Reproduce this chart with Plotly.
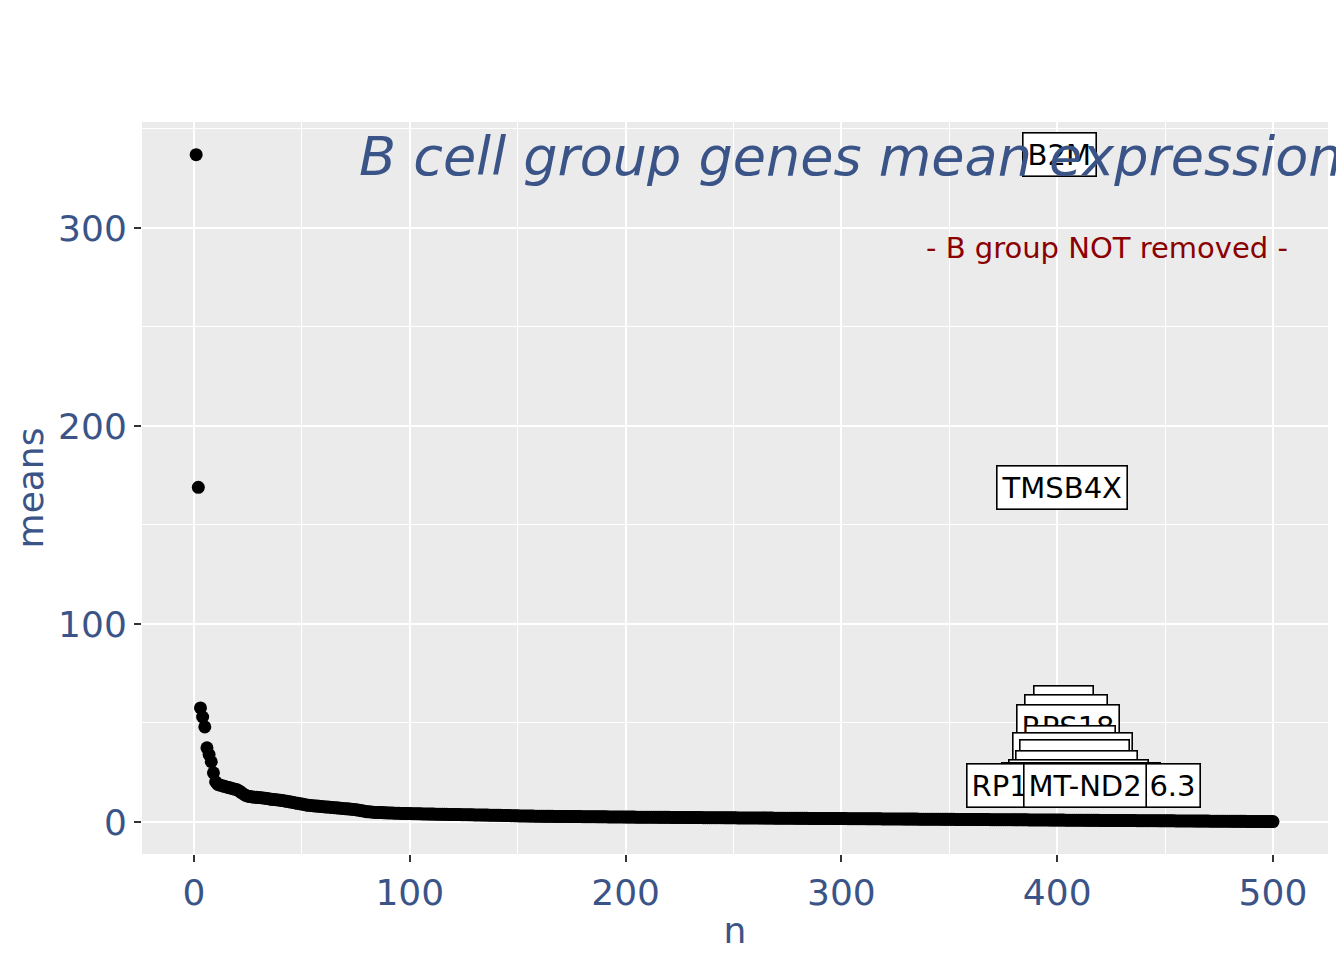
import plotly.graph_objects as go

# ---- data ----
means = [
    337.0, 169.0, 57.6, 53.0, 48.0, 37.4, 34.0, 30.4, 24.8, 20.3,
    19.0, 18.6, 18.3, 18.0, 17.7, 17.4, 17.1, 16.8, 16.5, 16.2,
    15.6, 14.8, 14.0, 13.4, 13.0, 12.8, 12.6, 12.5, 12.4, 12.3,
    12.2, 12.1, 12.0, 11.8, 11.6, 11.4, 11.3, 11.2, 11.1, 11.0,
    10.8, 10.6, 10.4, 10.2, 10.0, 9.8, 9.6, 9.4, 9.2, 9.0,
    8.8, 8.6, 8.4, 8.3, 8.2, 8.1, 8.0, 7.9, 7.8, 7.7,
    7.6, 7.5, 7.4, 7.3, 7.2, 7.1, 7.0, 6.9, 6.8, 6.7,
    6.6, 6.5, 6.4, 6.3, 6.2, 6.0, 5.8, 5.6, 5.4, 5.2,
    5.1, 5.0, 4.9, 4.8, 4.8, 4.7, 4.7, 4.6, 4.6, 4.5,
    4.5, 4.5, 4.4, 4.4, 4.4, 4.3, 4.3, 4.3, 4.2, 4.2,
    4.18, 4.15, 4.12, 4.10, 4.08, 4.05, 4.02, 4.00, 3.98, 3.96,
    3.94, 3.92, 3.90, 3.88, 3.86, 3.84, 3.82, 3.80, 3.78, 3.76,
    3.74, 3.72, 3.70, 3.68, 3.66, 3.64, 3.62, 3.60, 3.58, 3.56,
    3.54, 3.52, 3.50, 3.48, 3.46, 3.44, 3.42, 3.40, 3.38, 3.36,
    3.34, 3.31, 3.28, 3.25, 3.22, 3.19, 3.16, 3.13, 3.10, 3.07,
    3.05, 3.03, 3.01, 2.99, 2.97, 2.95, 2.93, 2.91, 2.89, 2.87,
    2.86, 2.85, 2.84, 2.83, 2.82, 2.81, 2.80, 2.79, 2.78, 2.77,
    2.76, 2.75, 2.74, 2.73, 2.72, 2.71, 2.70, 2.69, 2.68, 2.67,
    2.66, 2.65, 2.64, 2.63, 2.62, 2.61, 2.60, 2.59, 2.58, 2.57,
    2.56, 2.55, 2.54, 2.53, 2.52, 2.51, 2.50, 2.49, 2.48, 2.47,
    2.46, 2.45, 2.44, 2.43, 2.42, 2.41, 2.40, 2.40, 2.39, 2.38,
    2.37, 2.36, 2.35, 2.35, 2.34, 2.33, 2.32, 2.31, 2.30, 2.30,
    2.29, 2.28, 2.27, 2.26, 2.26, 2.25, 2.24, 2.23, 2.22, 2.22,
    2.21, 2.20, 2.19, 2.18, 2.18, 2.17, 2.16, 2.15, 2.14, 2.14,
    2.13, 2.12, 2.11, 2.10, 2.10, 2.09, 2.08, 2.07, 2.06, 2.06,
    2.05, 2.04, 2.03, 2.03, 2.02, 2.01, 2.00, 2.00, 1.99, 1.98,
    1.97, 1.97, 1.96, 1.95, 1.94, 1.94, 1.93, 1.92, 1.91, 1.91,
    1.90, 1.89, 1.88, 1.88, 1.87, 1.86, 1.85, 1.85, 1.84, 1.83,
    1.82, 1.82, 1.81, 1.80, 1.79, 1.79, 1.78, 1.77, 1.76, 1.76,
    1.75, 1.74, 1.73, 1.73, 1.72, 1.71, 1.70, 1.70, 1.69, 1.68,
    1.67, 1.67, 1.66, 1.65, 1.64, 1.64, 1.63, 1.62, 1.61, 1.61,
    1.60, 1.59, 1.58, 1.58, 1.57, 1.56, 1.55, 1.55, 1.54, 1.53,
    1.52, 1.52, 1.51, 1.50, 1.49, 1.49, 1.48, 1.47, 1.46, 1.46,
    1.45, 1.44, 1.43, 1.43, 1.42, 1.41, 1.40, 1.40, 1.39, 1.38,
    1.37, 1.37, 1.36, 1.35, 1.34, 1.34, 1.33, 1.32, 1.31, 1.31,
    1.30, 1.29, 1.28, 1.28, 1.27, 1.26, 1.25, 1.25, 1.24, 1.23,
    1.22, 1.22, 1.21, 1.20, 1.19, 1.19, 1.18, 1.17, 1.16, 1.16,
    1.15, 1.14, 1.13, 1.13, 1.12, 1.11, 1.10, 1.10, 1.09, 1.08,
    1.07, 1.07, 1.06, 1.05, 1.04, 1.04, 1.03, 1.02, 1.01, 1.01,
    1.00, 0.99, 0.98, 0.98, 0.97, 0.96, 0.95, 0.95, 0.94, 0.93,
    0.92, 0.92, 0.91, 0.90, 0.89, 0.89, 0.88, 0.87, 0.86, 0.86,
    0.85, 0.84, 0.83, 0.83, 0.82, 0.81, 0.80, 0.80, 0.79, 0.78,
    0.77, 0.77, 0.76, 0.75, 0.74, 0.74, 0.73, 0.72, 0.71, 0.71,
    0.70, 0.69, 0.68, 0.68, 0.67, 0.66, 0.65, 0.65, 0.64, 0.63,
    0.62, 0.62, 0.61, 0.60, 0.59, 0.59, 0.58, 0.57, 0.56, 0.56,
    0.55, 0.54, 0.53, 0.53, 0.52, 0.51, 0.50, 0.50, 0.49, 0.48,
    0.47, 0.47, 0.46, 0.45, 0.44, 0.44, 0.43, 0.42, 0.41, 0.41,
    0.40, 0.39, 0.38, 0.38, 0.37, 0.36, 0.35, 0.35, 0.34, 0.33,
    0.32, 0.32, 0.31, 0.30, 0.29, 0.29, 0.28, 0.27, 0.26, 0.26,
    0.25, 0.24, 0.23, 0.23, 0.22, 0.21, 0.20, 0.20, 0.19, 0.18,
]
n = list(range(1, len(means) + 1))

# labelled top genes, in rank order
top_genes = ["B2M", "TMSB4X", "FTL", "TPT1", "RPS18", "CD74", "EEF1A1",
             "MS4A1", "MT-CO1", "HLA-DRA", "HLA-DRB1", "RP11-222K16.3", "MT-ND2"]

title_text = "B cell group genes mean expression"
subtitle_text = "- B group NOT removed -"

x_ticks = [0, 100, 200, 300, 400, 500]
y_ticks = [0, 100, 200, 300]

# ---- styling ----
FONT = "DejaVu Sans"
BLUE = "#3B5488"
PANEL = "#EBEBEB"
NUDGE_X = 400

fig = go.Figure()
fig.add_trace(go.Scatter(
    x=n, y=means, mode="markers",
    marker=dict(color="black", size=13, line=dict(width=0)),
    showlegend=False, hoverinfo="skip",
))

annotations = []
for i, g in enumerate(top_genes):
    annotations.append(dict(
        x=n[i] + NUDGE_X, y=means[i], xref="x", yref="y", text=g,
        showarrow=False, font=dict(family=FONT, size=29, color="black"),
        bgcolor="white", bordercolor="black", borderwidth=1.6, borderpad=4,
        xanchor="center", yanchor="middle",
    ))

annotations.append(dict(
    x=304, y=336, xref="x", yref="y", text=title_text, showarrow=False,
    font=dict(family=FONT, size=54, color=BLUE, style="italic"),
    xanchor="center", yanchor="middle",
))
annotations.append(dict(
    x=423, y=290, xref="x", yref="y", text=subtitle_text, showarrow=False,
    font=dict(family=FONT, size=29, color="#8B0000"),
    xanchor="center", yanchor="middle",
))

axis_common = dict(
    showgrid=True, gridcolor="white", gridwidth=2.4,
    zeroline=False, showline=False,
    ticks="outside", ticklen=7, tickwidth=2, tickcolor="#333333",
    tickfont=dict(family=FONT, size=36, color=BLUE),
)

fig.update_layout(
    width=1344, height=960,
    paper_bgcolor="white", plot_bgcolor=PANEL,
    margin=dict(l=134, r=24, t=114, b=114),
    showlegend=False,
    annotations=annotations,
    xaxis=dict(
        **axis_common,
        range=[-24.1, 525.5], tickvals=x_ticks,
        ticktext=[str(v) for v in x_ticks],
        minor=dict(dtick=50, tick0=0, showgrid=True, gridcolor="white", gridwidth=1.2, ticks=""),
        title=dict(text="n", font=dict(family=FONT, size=36, color=BLUE), standoff=5),
    ),
    yaxis=dict(
        **axis_common,
        range=[-16.2, 353.5], tickvals=y_ticks,
        ticktext=[str(v) for v in y_ticks],
        minor=dict(dtick=50, tick0=0, showgrid=True, gridcolor="white", gridwidth=1.2, ticks=""),
        title=dict(text="means", font=dict(family=FONT, size=36, color=BLUE), standoff=3),
    ),
)

fig.write_html("out.html")
